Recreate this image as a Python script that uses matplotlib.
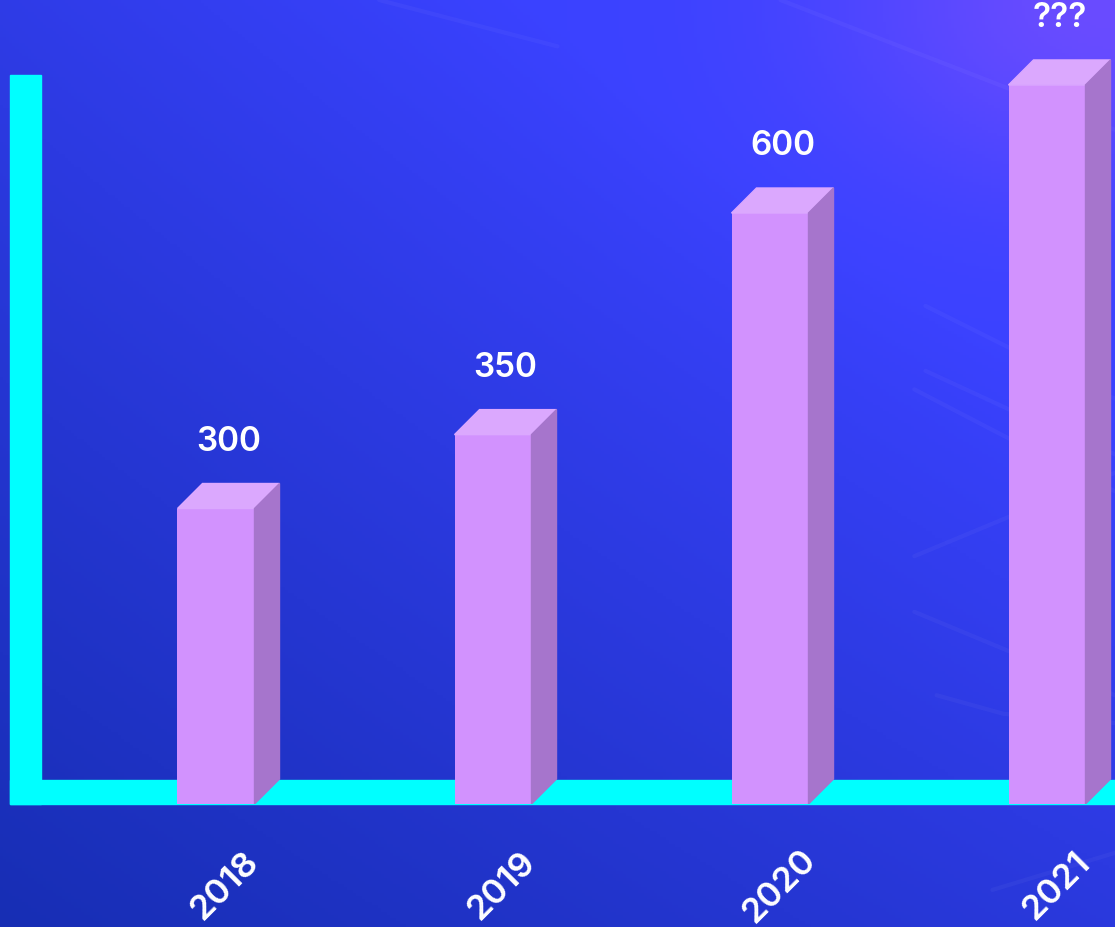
import matplotlib
matplotlib.use("Agg")
import matplotlib.pyplot as plt
import numpy as np
from matplotlib.patches import Polygon, Rectangle

# data
years = ["2018", "2019", "2020", "2021"]
values = [300, 375, 600, 730]          # bar heights as drawn
value_labels = ["300", "350", "600", "???"]

W, H = 1115, 927
fig = plt.figure(figsize=(W / 100, H / 100), dpi=100)

# background gradient
bg = fig.add_axes([0, 0, 1, 1])
yy, xx = np.mgrid[0:1:300j, 0:1:360j]   # yy=0 at top
t = np.clip(0.55 * xx + 0.75 * (1 - yy) * 0.9 + 0.15 * xx * (1 - yy), 0, 1)
dark = np.array([0x17, 0x2e, 0xb4]) / 255
bright = np.array([0x3a, 0x42, 0xff]) / 255
img = dark[None, None, :] * (1 - t[..., None]) + bright[None, None, :] * t[..., None]
purple = np.array([0x6a, 0x4c, 0xff]) / 255
g = np.exp(-(((xx - 1.0) / 0.25) ** 2 + ((yy - 0.0) / 0.2) ** 2))
img = img * (1 - g[..., None]) + purple[None, None, :] * g[..., None]
bg.imshow(img, extent=[0, 1, 0, 1], aspect="auto", origin="upper")
bg.set_xlim(0, 1)
bg.set_ylim(0, 1)
bg.axis("off")

# faint decorative lines on the right
deco = [
    [(0.83, 0.67), (0.98, 0.58), (1.0, 0.57)],
    [(0.83, 0.60), (0.92, 0.55), (1.0, 0.51)],
    [(0.82, 0.58), (0.90, 0.53), (1.0, 0.47)],
    [(0.82, 0.40), (0.92, 0.45), (1.0, 0.49)],
    [(0.82, 0.34), (0.92, 0.29), (1.0, 0.25)],
    [(0.84, 0.25), (0.90, 0.23), (1.0, 0.22)],
    [(0.34, 1.0), (0.50, 0.95)],
    [(0.70, 1.0), (0.85, 0.93), (1.0, 0.86)],
    [(0.89, 0.04), (1.0, 0.08)],
]
for pts in deco:
    px, py = zip(*pts)
    bg.plot(px, py, color="white", alpha=0.035, lw=3, solid_capstyle="round")

# cyan L-shaped axis (drawn under the bars)
bg.add_patch(Rectangle((10 / W, (H - 804) / H), 31 / W, (804 - 75) / H,
                       color="#00ffff", zorder=2))
bg.add_patch(Rectangle((10 / W, (H - 804) / H), (W - 10) / W, 24 / H,
                       color="#00ffff", zorder=2))

# main axes: baseline at y=804 px
px_per_unit_y = 0.985
ax_h = 800 * px_per_unit_y
ax = fig.add_axes([0, (H - 804) / H, 1, ax_h / H])
ax.patch.set_alpha(0)
ax.axis("off")
x0, step = 216, 277
ax.set_xlim(-x0 / step, (W - x0) / step)
ax.set_ylim(0, 800)

x = np.arange(len(years))
bw = 77 / step
dx = 25 / step
dy = 25 / px_per_unit_y

ax.bar(x, values, width=bw, color="#d292fe", zorder=3)
for xi, v in zip(x, values):
    l, r = xi - bw / 2, xi + bw / 2
    ax.add_patch(Polygon([(l, v), (l + dx, v + dy), (r + dx, v + dy), (r, v)],
                         closed=True, color="#dba8fe", zorder=3))
    ax.add_patch(Polygon([(r, 0), (r + dx, dy), (r + dx, v + dy), (r, v)],
                         closed=True, color="#a675cc", zorder=3))

font = dict(fontfamily="Inter", fontweight="semibold", color="white")
for xi, v, lab in zip(x, values, value_labels):
    ax.text(xi + dx / 2, v + 68, lab, ha="center", va="center", clip_on=False,
            fontsize=24, **font)

for xi, yr in zip(x, years):
    ax.text(xi + dx / 2 - 0.01, -83, yr, ha="center", va="center", rotation=45,
            clip_on=False, fontsize=25, **font)

fig.savefig("out.png", dpi=100)
